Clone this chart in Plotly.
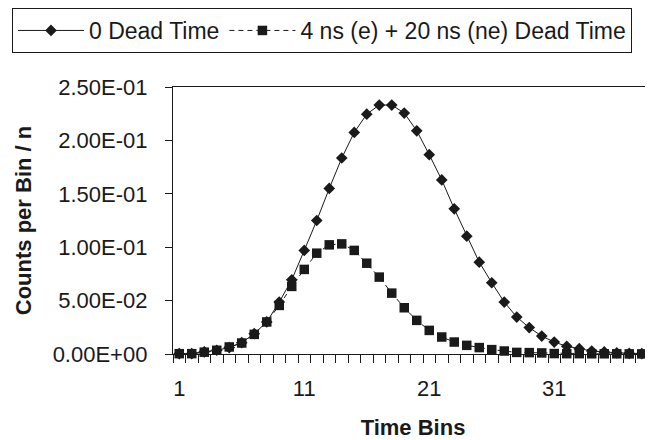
import plotly.graph_objects as go

bins = list(range(1, 40))

dead0 = [0.0003, 0.0004, 0.0020, 0.0035, 0.0060, 0.0106, 0.0190, 0.0300, 0.0486, 0.0695,
         0.0970, 0.1250, 0.1550, 0.1835, 0.2075, 0.2246, 0.2331, 0.2331, 0.2256, 0.2090,
         0.1866, 0.1630, 0.1359, 0.1103, 0.0860, 0.0667, 0.0486, 0.0346, 0.0247, 0.0168,
         0.0112, 0.0072, 0.0050, 0.0028, 0.0019, 0.0010, 0.0006, 0.0004, 0.0002]

dead_e_ne = [0.0003, 0.0003, 0.0017, 0.0035, 0.0066, 0.0103, 0.0184, 0.0300, 0.0455, 0.0633,
             0.0792, 0.0944, 0.1022, 0.1031, 0.0970, 0.0850, 0.0720, 0.0570, 0.0433, 0.0315,
             0.0221, 0.0159, 0.0112, 0.0081, 0.0060, 0.0041, 0.0028, 0.0015, 0.0013, 0.0010,
             0.0004, 0.0003, 0.0003, 0.0002, 0.0002, 0.0002, 0.0001, 0.0001, 0.0001]

series_names = ["0 Dead Time", "4 ns (e) + 20 ns (ne) Dead Time"]

x_tickvals = [1, 11, 21, 31]
x_ticktext = ["1", "11", "21", "31"]
y_tickvals = [0, 0.05, 0.10, 0.15, 0.20, 0.25]
y_ticktext = ["0.00E+00", "5.00E-02", "1.00E-01", "1.50E-01", "2.00E-01", "2.50E-01"]

INK = "#1a1a1a"
FONT = "Liberation Sans, Arial, sans-serif"

# the page body has an 8px margin; the figure fills the rest of the 653x440 window
W, H = 645, 432
ML, MR, MT, MB = 165, 0, 79, 86
PW, PH = W - ML - MR, H - MT - MB

fig = go.Figure()
fig.add_trace(go.Scatter(
    x=bins, y=dead0, name=series_names[0], mode="lines+markers",
    line=dict(color=INK, width=1, dash="solid"),
    marker=dict(symbol="diamond", size=9, color=INK),
    cliponaxis=False,
))
fig.add_trace(go.Scatter(
    x=bins, y=dead_e_ne, name=series_names[1], mode="lines+markers",
    line=dict(color=INK, width=1, dash="5px,4px"),
    marker=dict(symbol="square", size=9.5, color=INK),
    cliponaxis=False,
))

fig.update_layout(
    width=W, height=H,
    margin=dict(l=ML, r=MR, t=MT, b=MB, autoexpand=False),
    paper_bgcolor="white", plot_bgcolor="white",
    font=dict(family=FONT, color=INK),
    showlegend=True,
    legend=dict(
        orientation="h", xref="paper", yref="paper",
        x=(4 - ML) / PW, y=(H - MB - 0) / PH, xanchor="left", yanchor="top",
        bordercolor=INK, borderwidth=1, bgcolor="white",
        font=dict(size=23, family=FONT, color=INK),
        itemwidth=66, tracegroupgap=0,
    ),
    xaxis=dict(
        range=[0.5, 38.9], showgrid=False, zeroline=False,
        showline=True, linecolor=INK, linewidth=1.3, mirror=True,
        tickmode="array", tickvals=x_tickvals, ticktext=x_ticktext,
        ticks="outside", ticklen=0, ticklabelstandoff=14,
        tickfont=dict(size=22, family=FONT, color=INK),
        minor=dict(tickmode="linear", tick0=0.5, dtick=1, ticks="outside",
                   ticklen=8, tickwidth=1.2, tickcolor=INK, showgrid=False),
        title=dict(text="<b>Time Bins</b>", font=dict(size=22, family=FONT, color=INK), standoff=25),
        layer="below traces",
    ),
    yaxis=dict(
        range=[0, 0.25], showgrid=False, zeroline=False,
        showline=True, linecolor=INK, linewidth=1.3, mirror=False,
        tickmode="array", tickvals=y_tickvals, ticktext=y_ticktext,
        ticks="outside", ticklen=7, tickwidth=1.2, tickcolor=INK, ticklabelstandoff=13,
        tickfont=dict(size=22, family=FONT, color=INK),
        title=dict(text="<b>Counts per Bin / n</b>", font=dict(size=22, family=FONT, color=INK), standoff=14),
        layer="below traces",
    ),
)

fig.write_html("out.html")
